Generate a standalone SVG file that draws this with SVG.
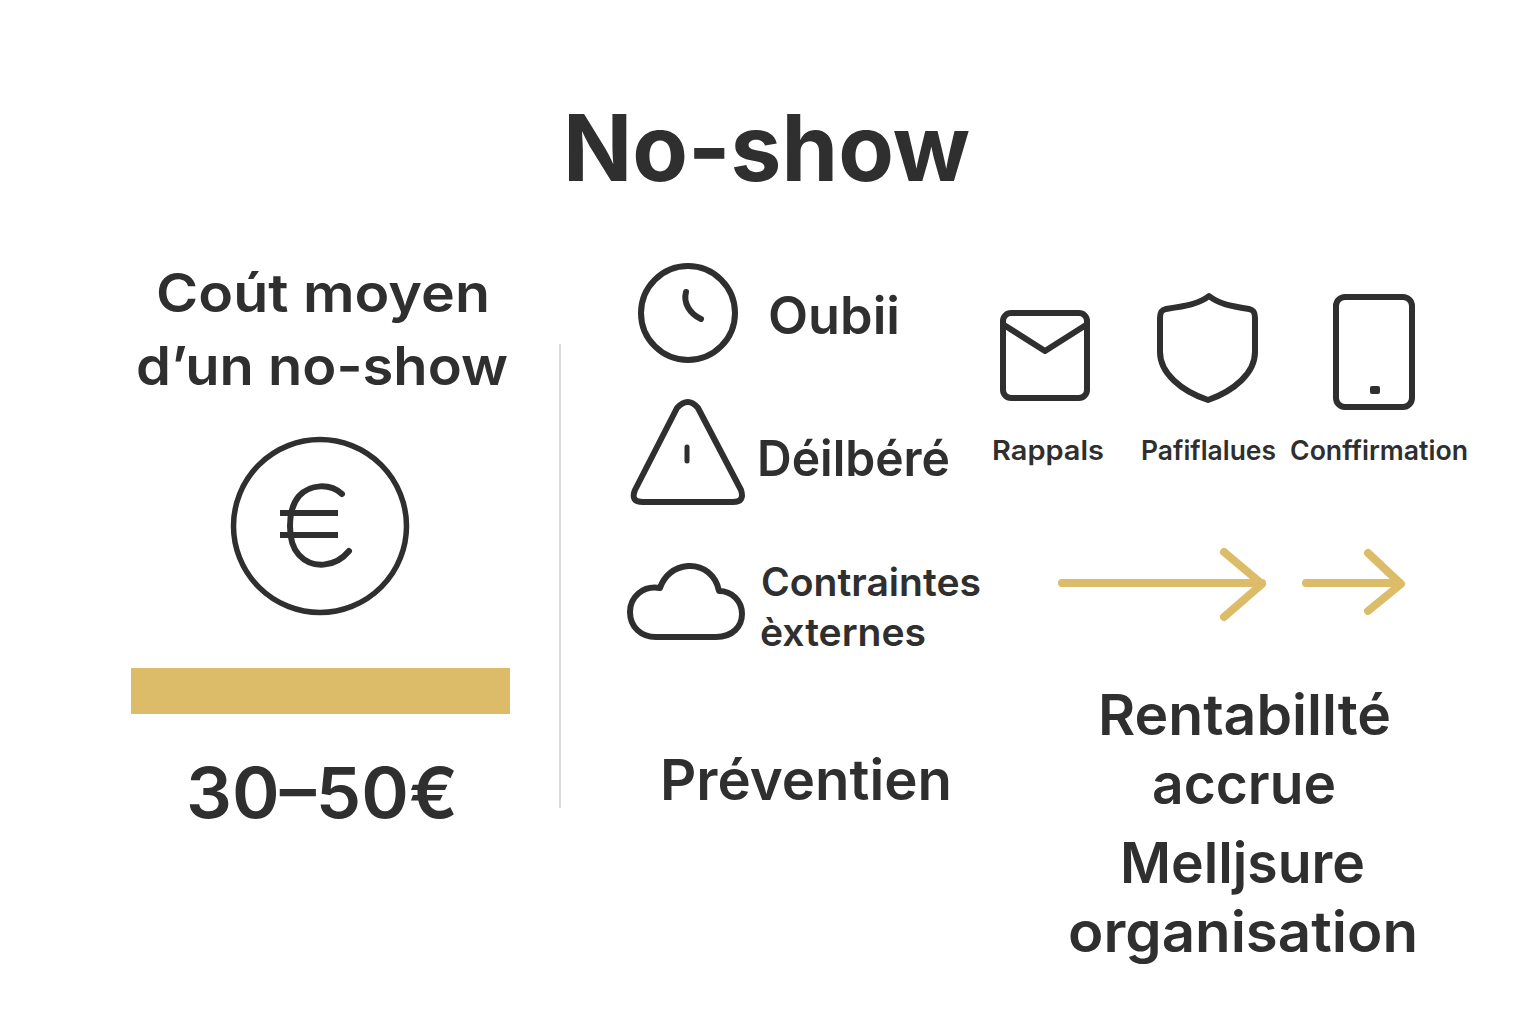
<svg xmlns="http://www.w3.org/2000/svg" width="1536" height="1024" viewBox="0 0 1536 1024">
<style>
text{font-family:Inter,"Liberation Sans",sans-serif;fill:#2f2f2f;text-anchor:middle;font-weight:600}
.i{fill:none;stroke:#2f2f2f;stroke-width:6;stroke-linecap:round;stroke-linejoin:round}
.g{fill:none;stroke:#dcbc68;stroke-width:8;stroke-linecap:round;stroke-linejoin:round}
</style>
<rect width="1536" height="1024" fill="#fff"/>
<g id="title"><text x="766.500" y="181" font-size="92" textLength="407" lengthAdjust="spacingAndGlyphs" style="font-weight:700">No-show</text></g>
<g id="cost">
<text x="323" y="312" font-size="53" textLength="334" lengthAdjust="spacingAndGlyphs">Coút moyen</text>
<text x="322" y="385" font-size="53" textLength="372" lengthAdjust="spacingAndGlyphs">d’un no-show</text>
<circle class="i" cx="320" cy="526" r="86.500" style="stroke-width:5.500"/>
<path class="i" d="M342 494C330 483 310 484 299 496C287 510 287 542 299 555C312 569 335 568 349 551"/>
<path class="i" style="stroke-linecap:butt" d="M280 513H338M280 535H338"/>
<rect x="131" y="668" width="379" height="46" fill="#dcbc68"/>
<text x="322" y="818" font-size="70" textLength="272" lengthAdjust="spacingAndGlyphs">30–50€</text>
</g>
<line id="divider" x1="560" y1="344" x2="560" y2="808" stroke="#cfcfcf" stroke-width="1.500"/>
<g id="oubli">
<circle class="i" cx="688" cy="313" r="47"/>
<path class="i" d="M686 292C683 303 690 314 701 319"/>
<text x="834" y="334" font-size="52" textLength="132" lengthAdjust="spacingAndGlyphs">Oubii</text>
</g>
<g id="delibere">
<path class="i" d="M677 408Q688 396 698 408L741 490Q745 502 733 502H643Q630 502 635 490Z"/>
<path class="i" style="stroke-width:5" d="M687 447V461"/>
<text x="853.500" y="476" font-size="49" textLength="193" lengthAdjust="spacingAndGlyphs">Déilbéré</text>
</g>
<g id="contraintes">
<path class="i" d="M656 637H716C733 637 742 626 742 614C742 601 732 591 719 591C716 575 703 565 688 566C674 567 664 576 660 588C643 585 630 597 630 612C630 627 641 637 656 637Z"/>
<text x="871" y="596" font-size="39" textLength="220" lengthAdjust="spacingAndGlyphs">Contraintes</text>
<text x="843" y="646" font-size="39" textLength="166" lengthAdjust="spacingAndGlyphs">èxternes</text>
</g>
<g id="rappels">
<rect class="i" x="1003" y="313" width="84" height="85" rx="8"/>
<path class="i" d="M1004 325L1045 351L1086 325"/>
<text x="1048" y="460" font-size="27" textLength="112" lengthAdjust="spacingAndGlyphs">Rappals</text>
</g>
<g id="pastilles">
<path class="i" d="M1209 296C1199 304 1186 306 1166 309C1161 310 1160 313 1160 318V352C1160 373 1181 391 1208 400C1234 391 1255 373 1255 352V318C1255 313 1254 310 1249 309C1230 306 1219 304 1209 296Z"/>
<text x="1208.500" y="460" font-size="27" textLength="135" lengthAdjust="spacingAndGlyphs">Pafiflalues</text>
</g>
<g id="confirmation">
<rect class="i" x="1336" y="297" width="76" height="110" rx="9"/>
<rect x="1370" y="386" width="10" height="8" rx="2" fill="#2f2f2f"/>
<text x="1379" y="460" font-size="27" textLength="178" lengthAdjust="spacingAndGlyphs">Conffirmation</text>
</g>
<g id="connectors">
<path class="g" d="M1062 583H1262M1224 552L1262 584L1224 617"/>
<path class="g" d="M1306 583H1400M1368 553L1401 584L1368 611"/>
</g>
<g id="prevention"><text x="806" y="800" font-size="56" textLength="292" lengthAdjust="spacingAndGlyphs">Préventien</text></g>
<g id="results">
<text x="1244.500" y="735" font-size="56" textLength="293" lengthAdjust="spacingAndGlyphs">Rentabillté</text>
<text x="1244" y="804" font-size="56" textLength="184" lengthAdjust="spacingAndGlyphs">accrue</text>
<text x="1242.500" y="883" font-size="56" textLength="245" lengthAdjust="spacingAndGlyphs">Melljsure</text>
<text x="1243" y="952" font-size="56" textLength="350" lengthAdjust="spacingAndGlyphs">organisation</text>
</g>
</svg>
